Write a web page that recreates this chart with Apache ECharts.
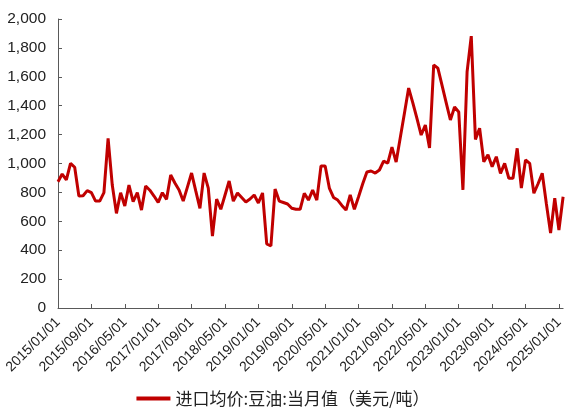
<!DOCTYPE html>
<html>
<head>
<meta charset="utf-8">
<script src="https://cdn.jsdelivr.net/npm/echarts@6/dist/echarts.min.js"></script>
<style>
html,body{margin:0;padding:0;background:#fff;}
#chart{width:566px;height:410px;}
</style>
</head>
<body>
<div id="chart"></div>
<script>
// Monthly dates 2015/01/01 .. 2025/02/01
const categories = [];
for (let y = 2015; y <= 2025; y++) {
  for (let m = 1; m <= 12; m++) {
    if (y === 2025 && m > 2) break;
    categories.push(y + '/' + String(m).padStart(2, '0') + '/01');
  }
}
const seriesName = '进口均价:豆油:当月值（美元/吨）';
const values = [
  874, 927, 886, 1001, 974, 775, 777, 812, 798, 740, 740, 798,
  1174, 851, 655, 798, 706, 851, 736, 798, 678, 844, 815, 775,
  731, 798, 752, 920, 865, 817, 740, 837, 934, 810, 690, 934,
  830, 498, 754, 683, 780, 879, 740, 796, 765, 734, 754, 782,
  727, 796, 443, 429, 823, 740, 730, 720, 690, 683, 683, 794,
  747, 816, 747, 983, 983, 830, 765, 747, 710, 678, 782, 683,
  770, 860, 941, 948, 934, 955, 1017, 1003, 1114, 1010, 1180, 1350,
  1522, 1420, 1310, 1197, 1266, 1107, 1682, 1660, 1540, 1420, 1301, 1391,
  1357, 817, 1635, 1882, 1167, 1244, 1012, 1060, 978, 1047, 932, 1001,
  898, 898, 1105, 830, 1024, 1001, 794, 860, 932, 720, 518, 760,
  540, 770
];
const yMin = 0, yMax = 2000, yStep = 200;

const chart = echarts.init(document.getElementById('chart'), null, {renderer: 'canvas'});
const fontFam = '"Liberation Sans", Arial, "Noto Sans CJK SC", sans-serif';
chart.setOption({
  animation: false,
  backgroundColor: '#ffffff',
  grid: {left: 58, right: 0, top: 19, bottom: 102, containLabel: false},
  legend: {
    bottom: -2, left: 'center',
    itemWidth: 34, itemHeight: 4, itemGap: 10,
    icon: 'rect',
    textStyle: {fontSize: 17, color: '#222', fontFamily: '"Noto Sans CJK SC", sans-serif'},
    data: [seriesName]
  },
  xAxis: {
    type: 'category',
    data: categories,
    boundaryGap: false,
    axisLine: {lineStyle: {color: '#595959', width: 1}},
    axisTick: {inside: true, interval: 7, length: 4, lineStyle: {color: '#595959'}},
    axisLabel: {interval: 7, rotate: 45, fontSize: 14, color: '#222', fontFamily: fontFam, margin: 12},
    splitLine: {show: false}
  },
  yAxis: {
    type: 'value',
    min: yMin, max: yMax, interval: yStep,
    axisLine: {show: true, lineStyle: {color: '#595959', width: 1}},
    axisTick: {show: true, inside: true, length: 4, lineStyle: {color: '#595959'}},
    axisLabel: {fontSize: 15.5, color: '#222', fontFamily: fontFam, margin: 12,
      formatter: v => v.toLocaleString('en-US')},
    splitLine: {show: false}
  },
  series: [{
    name: seriesName,
    type: 'line',
    data: values,
    showSymbol: false,
    symbol: 'none',
    lineStyle: {color: '#C00000', width: 3},
    itemStyle: {color: '#C00000'}
  }]
});
</script>
</body>
</html>
